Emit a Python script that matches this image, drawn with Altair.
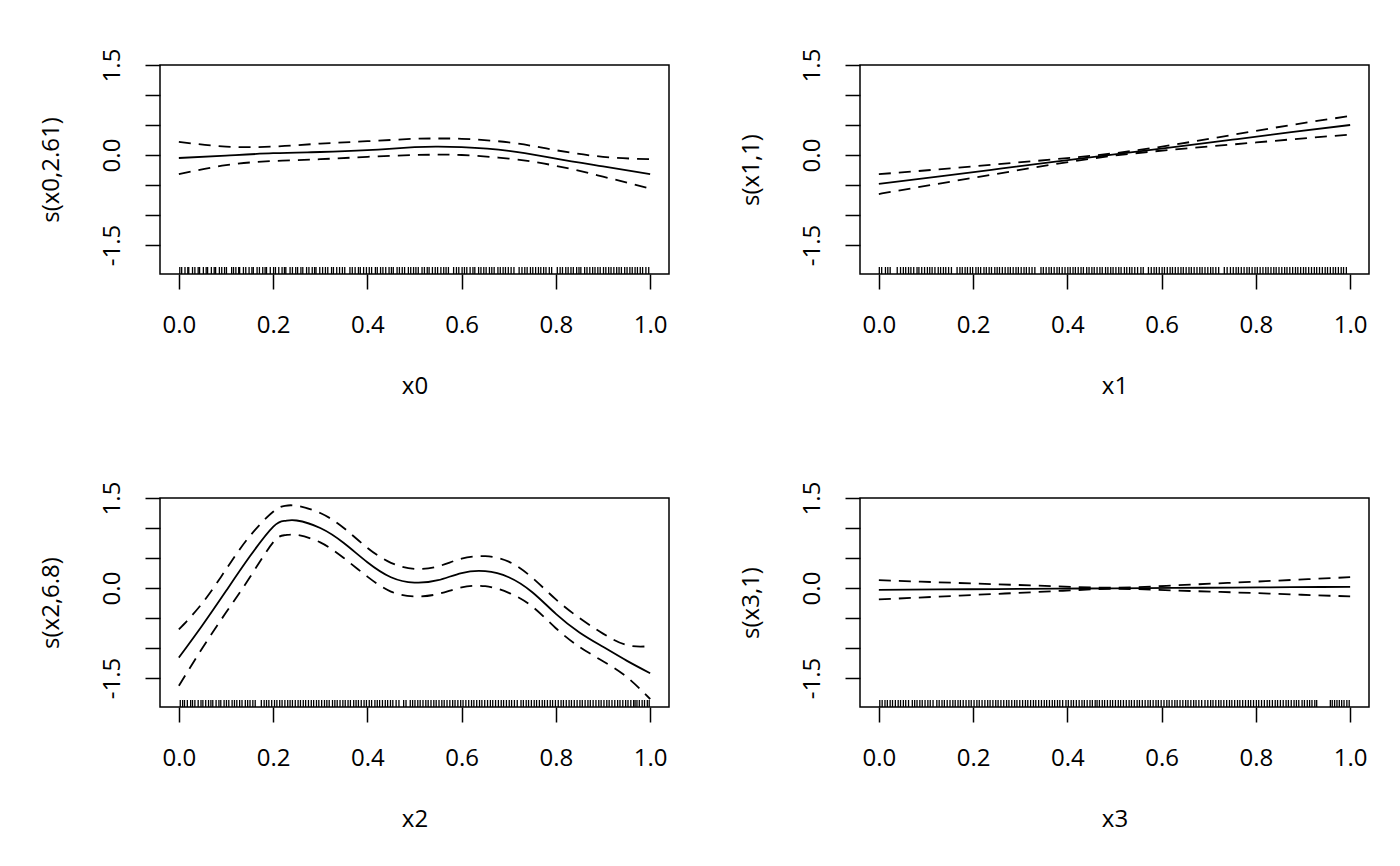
"""Four GAM smooth panels (fit, +/- 2 se bands and rug) in the style of mgcv plot.gam."""

import altair as alt
import pandas as pd

FONT = "Open Sans"
Y_MIN, Y_MAX = -1.983, 1.5
X_TICKS = [0.0, 0.2, 0.4, 0.6, 0.8, 1.0]
Y_TICKS = [-1.5, -1.0, -0.5, 0.0, 0.5, 1.0, 1.5]

# s(x0, 2.61)
x0_grid = [0.0, 0.1, 0.2, 0.3, 0.4, 0.5, 0.55, 0.6, 0.7, 0.8, 0.9, 1.0]
x0_fit = [-0.05, -0.01, 0.03, 0.05, 0.08, 0.13, 0.14, 0.13, 0.07, -0.06, -0.19, -0.32]
x0_upper = [0.22, 0.14, 0.14, 0.19, 0.23, 0.27, 0.275, 0.27, 0.21, 0.08, -0.03, -0.07]
x0_lower = [-0.32, -0.17, -0.10, -0.07, -0.03, 0.0, 0.005, 0.0, -0.06, -0.18, -0.36, -0.56]

# s(x1, 1)
x1_grid = [0.0, 0.125, 0.25, 0.375, 0.5, 0.625, 0.75, 0.875, 1.0]
x1_fit = [-0.48, -0.36, -0.235, -0.11, 0.01, 0.13, 0.255, 0.38, 0.50]
x1_upper = [-0.32, -0.24, -0.155, -0.07, 0.03, 0.17, 0.335, 0.50, 0.65]
x1_lower = [-0.65, -0.48, -0.315, -0.15, -0.01, 0.09, 0.175, 0.26, 0.34]

# s(x2, 6.8)
x2_grid = [0.0, 0.05, 0.1, 0.15, 0.2, 0.225, 0.25, 0.3, 0.35, 0.4, 0.45,
           0.5, 0.55, 0.6, 0.65, 0.7, 0.75, 0.8, 0.85, 0.9, 0.95, 1.0]
x2_fit = [-1.16, -0.62, -0.05, 0.52, 1.02, 1.12, 1.125, 1.0, 0.75, 0.43, 0.18,
          0.09, 0.13, 0.25, 0.28, 0.18, -0.07, -0.43, -0.74, -0.98, -1.21, -1.42]
x2_upper = [-0.69, -0.25, 0.31, 0.86, 1.27, 1.37, 1.37, 1.25, 1.0, 0.67, 0.42,
            0.32, 0.36, 0.49, 0.53, 0.44, 0.17, -0.19, -0.5, -0.76, -0.95, -0.97]
x2_lower = [-1.63, -1.0, -0.41, 0.17, 0.76, 0.88, 0.885, 0.76, 0.5, 0.19, -0.06,
            -0.14, -0.10, 0.01, 0.03, -0.08, -0.31, -0.67, -0.98, -1.22, -1.48, -1.85]

# s(x3, 1)
x3_grid = [0.0, 0.125, 0.25, 0.375, 0.5, 0.625, 0.75, 0.875, 1.0]
x3_fit = [-0.03, -0.024, -0.018, -0.011, -0.005, 0.001, 0.008, 0.014, 0.02]
x3_upper = [0.13, 0.096, 0.062, 0.03, 0.005, 0.042, 0.088, 0.134, 0.18]
x3_lower = [-0.19, -0.144, -0.098, -0.052, -0.015, -0.04, -0.072, -0.106, -0.14]

# rug positions
rug_x0 = [0.002, 0.006, 0.013, 0.019, 0.021, 0.029, 0.034, 0.041, 0.044, 0.052,
          0.058, 0.061, 0.069, 0.075, 0.078, 0.086, 0.091, 0.097, 0.101, 0.112,
          0.116, 0.121, 0.127, 0.129, 0.137, 0.142, 0.149, 0.155, 0.158, 0.166,
          0.171, 0.178, 0.183, 0.186, 0.194, 0.201, 0.205, 0.212, 0.219, 0.224,
          0.227, 0.236, 0.241, 0.248, 0.252, 0.259, 0.263, 0.271, 0.276, 0.283,
          0.288, 0.291, 0.299, 0.305, 0.311, 0.316, 0.324, 0.328, 0.335, 0.341,
          0.347, 0.352, 0.363, 0.368, 0.374, 0.381, 0.385, 0.392, 0.398, 0.404,
          0.409, 0.417, 0.421, 0.428, 0.433, 0.439, 0.446, 0.451, 0.455, 0.463,
          0.468, 0.474, 0.479, 0.487, 0.492, 0.498, 0.503, 0.508, 0.516, 0.521,
          0.527, 0.531, 0.538, 0.544, 0.549, 0.556, 0.562, 0.567, 0.572, 0.583,
          0.589, 0.594, 0.601, 0.606, 0.611, 0.618, 0.624, 0.628, 0.636, 0.641,
          0.647, 0.652, 0.659, 0.664, 0.669, 0.677, 0.682, 0.688, 0.693, 0.699,
          0.705, 0.711, 0.722, 0.728, 0.734, 0.739, 0.746, 0.751, 0.757, 0.763,
          0.768, 0.774, 0.779, 0.786, 0.791, 0.803, 0.809, 0.814, 0.821, 0.826,
          0.832, 0.837, 0.844, 0.849, 0.853, 0.861, 0.866, 0.872, 0.878, 0.883,
          0.889, 0.894, 0.901, 0.906, 0.912, 0.917, 0.923, 0.929, 0.934, 0.939,
          0.946, 0.951, 0.957, 0.962, 0.968, 0.973, 0.979, 0.984, 0.991, 0.997]
rug_x1 = [0.001, 0.006, 0.014, 0.019, 0.024, 0.039, 0.046, 0.052, 0.057, 0.063,
          0.068, 0.074, 0.081, 0.085, 0.091, 0.097, 0.103, 0.108, 0.113, 0.119,
          0.126, 0.131, 0.137, 0.142, 0.148, 0.154, 0.166, 0.172, 0.177, 0.183,
          0.188, 0.194, 0.199, 0.206, 0.211, 0.216, 0.223, 0.228, 0.234, 0.239,
          0.246, 0.251, 0.256, 0.262, 0.268, 0.274, 0.279, 0.285, 0.291, 0.296,
          0.302, 0.308, 0.313, 0.319, 0.325, 0.331, 0.344, 0.349, 0.355, 0.361,
          0.366, 0.372, 0.378, 0.383, 0.389, 0.395, 0.401, 0.406, 0.412, 0.417,
          0.423, 0.429, 0.434, 0.441, 0.446, 0.452, 0.457, 0.463, 0.469, 0.474,
          0.481, 0.486, 0.492, 0.497, 0.503, 0.509, 0.514, 0.521, 0.526, 0.532,
          0.537, 0.543, 0.549, 0.556, 0.561, 0.572, 0.578, 0.584, 0.589, 0.595,
          0.601, 0.606, 0.612, 0.618, 0.623, 0.629, 0.635, 0.641, 0.646, 0.652,
          0.658, 0.663, 0.669, 0.675, 0.681, 0.686, 0.692, 0.698, 0.704, 0.709,
          0.715, 0.721, 0.733, 0.739, 0.746, 0.752, 0.758, 0.763, 0.769, 0.775,
          0.781, 0.786, 0.792, 0.798, 0.803, 0.809, 0.815, 0.821, 0.826, 0.832,
          0.838, 0.843, 0.849, 0.855, 0.861, 0.866, 0.872, 0.878, 0.884, 0.889,
          0.895, 0.901, 0.906, 0.912, 0.918, 0.924, 0.929, 0.935, 0.941, 0.947,
          0.952, 0.958, 0.964, 0.969, 0.975, 0.981, 0.986, 0.992]
rug_x2 = [0.003, 0.008, 0.012, 0.018, 0.025, 0.029, 0.034, 0.041, 0.047, 0.051,
          0.057, 0.063, 0.068, 0.072, 0.079, 0.085, 0.089, 0.096, 0.101, 0.106,
          0.113, 0.118, 0.123, 0.129, 0.134, 0.141, 0.146, 0.151, 0.157, 0.162,
          0.175, 0.181, 0.186, 0.191, 0.197, 0.203, 0.208, 0.214, 0.219, 0.225,
          0.231, 0.236, 0.241, 0.247, 0.253, 0.258, 0.264, 0.269, 0.275, 0.281,
          0.286, 0.292, 0.297, 0.303, 0.309, 0.314, 0.319, 0.326, 0.331, 0.336,
          0.342, 0.348, 0.353, 0.359, 0.364, 0.371, 0.376, 0.381, 0.387, 0.393,
          0.398, 0.404, 0.409, 0.416, 0.421, 0.426, 0.432, 0.438, 0.443, 0.449,
          0.454, 0.461, 0.467, 0.477, 0.482, 0.491, 0.496, 0.501, 0.507, 0.512,
          0.518, 0.524, 0.529, 0.535, 0.541, 0.546, 0.552, 0.558, 0.563, 0.569,
          0.575, 0.581, 0.586, 0.592, 0.598, 0.603, 0.609, 0.615, 0.621, 0.626,
          0.632, 0.638, 0.643, 0.649, 0.655, 0.661, 0.666, 0.672, 0.678, 0.684,
          0.689, 0.695, 0.701, 0.706, 0.712, 0.718, 0.726, 0.731, 0.737, 0.742,
          0.748, 0.754, 0.759, 0.765, 0.771, 0.776, 0.782, 0.788, 0.793, 0.799,
          0.805, 0.811, 0.816, 0.822, 0.828, 0.833, 0.839, 0.845, 0.851, 0.856,
          0.862, 0.868, 0.873, 0.879, 0.885, 0.891, 0.896, 0.902, 0.908, 0.913,
          0.919, 0.925, 0.931, 0.936, 0.942, 0.948, 0.953, 0.959, 0.965, 0.968,
          0.972, 0.977, 0.983, 0.988, 0.994, 0.998]
rug_x3 = [0.002, 0.007, 0.013, 0.018, 0.024, 0.029, 0.035, 0.041, 0.046, 0.052,
          0.057, 0.063, 0.071, 0.076, 0.081, 0.087, 0.092, 0.098, 0.104, 0.109,
          0.115, 0.123, 0.128, 0.134, 0.139, 0.145, 0.151, 0.157, 0.162, 0.168,
          0.173, 0.179, 0.185, 0.191, 0.196, 0.202, 0.208, 0.213, 0.219, 0.225,
          0.231, 0.236, 0.242, 0.248, 0.253, 0.259, 0.265, 0.271, 0.276, 0.282,
          0.288, 0.293, 0.299, 0.305, 0.311, 0.316, 0.322, 0.328, 0.333, 0.339,
          0.345, 0.351, 0.356, 0.362, 0.368, 0.373, 0.379, 0.384, 0.390, 0.397,
          0.402, 0.408, 0.413, 0.419, 0.425, 0.431, 0.436, 0.442, 0.448, 0.453,
          0.459, 0.463, 0.468, 0.474, 0.479, 0.485, 0.491, 0.496, 0.502, 0.508,
          0.513, 0.519, 0.525, 0.531, 0.536, 0.542, 0.548, 0.553, 0.559, 0.565,
          0.571, 0.576, 0.582, 0.588, 0.593, 0.599, 0.605, 0.611, 0.616, 0.622,
          0.628, 0.633, 0.639, 0.645, 0.651, 0.656, 0.662, 0.668, 0.673, 0.679,
          0.685, 0.692, 0.698, 0.704, 0.709, 0.715, 0.721, 0.726, 0.732, 0.738,
          0.744, 0.749, 0.755, 0.761, 0.766, 0.772, 0.778, 0.784, 0.789, 0.795,
          0.801, 0.806, 0.812, 0.818, 0.824, 0.829, 0.835, 0.841, 0.846, 0.852,
          0.858, 0.864, 0.869, 0.875, 0.881, 0.886, 0.891, 0.898, 0.903, 0.909,
          0.914, 0.919, 0.925, 0.929, 0.958, 0.962, 0.967, 0.972, 0.977, 0.982,
          0.987, 0.993, 0.998]


def curve_frame(grid, fit, upper, lower):
    rows = []
    for kind, vals in (("fit", fit), ("upper", upper), ("lower", lower)):
        rows += [{"x": x, "y": y, "kind": kind} for x, y in zip(grid, vals)]
    return pd.DataFrame(rows)


def panel(grid, fit, upper, lower, rug, xlab, ylab):
    """One smooth: solid fit, dashed bands, rug along the bottom."""
    xs = alt.X("x:Q",
               scale=alt.Scale(domain=[-0.04, 1.04], nice=False, zero=False),
               axis=alt.Axis(values=X_TICKS, format=".1f", title=xlab,
                             domain=False, grid=False, tickSize=15, tickWidth=1.5,
                             tickColor="black", labelFont=FONT, labelFontSize=24,
                             labelColor="black", labelPadding=43,
                             labelBaseline="alphabetic", labelFlush=False,
                             labelOverlap=False, titleFont=FONT, titleFontSize=24,
                             titleFontWeight="normal", titleColor="black",
                             titleBaseline="alphabetic", titleAlign="center",
                             titleX=254.5, titleY=119))
    ys = alt.Y("y:Q",
               scale=alt.Scale(domain=[Y_MIN, Y_MAX], nice=False, zero=False),
               axis=alt.Axis(values=Y_TICKS, title=ylab,
                             labelExpr="datum.value == 1.5 ? '1.5' : datum.value == 0 ? '0.0'"
                                       " : datum.value == -1.5 ? '-1.5' : ''",
                             domain=False, grid=False, tickSize=15, tickWidth=1.5,
                             tickColor="black", labelFont=FONT, labelFontSize=24,
                             labelColor="black", labelAngle=270, labelAlign="center",
                             labelBaseline="alphabetic", labelPadding=26,
                             labelFlush=False, labelOverlap=False, titleFont=FONT,
                             titleFontSize=24, titleFontWeight="normal",
                             titleColor="black", titleAngle=270, titleAlign="center",
                             titleBaseline="alphabetic", titleX=-102, titleY=104.5))

    base = alt.Chart(curve_frame(grid, fit, upper, lower)).encode(x=xs, y=ys)
    bands = base.transform_filter("datum.kind != 'fit'").mark_line(
        color="black", strokeWidth=1.8, strokeDash=[12, 8], interpolate="natural",
        clip=True).encode(detail="kind:N")
    fit_line = base.transform_filter("datum.kind == 'fit'").mark_line(
        color="black", strokeWidth=1.8, interpolate="natural", clip=True)
    rug_marks = alt.Chart(pd.DataFrame({"x": rug})).mark_rule(
        color="black", strokeWidth=1.3).encode(x=xs, y=alt.value(202), y2=alt.value(209))

    return alt.layer(bands, fit_line, rug_marks).properties(width=509, height=209)


chart = alt.concat(
    panel(x0_grid, x0_fit, x0_upper, x0_lower, rug_x0, "x0", "s(x0,2.61)"),
    panel(x1_grid, x1_fit, x1_upper, x1_lower, rug_x1, "x1", "s(x1,1)"),
    panel(x2_grid, x2_fit, x2_upper, x2_lower, rug_x2, "x2", "s(x2,6.8)"),
    panel(x3_grid, x3_fit, x3_upper, x3_lower, rug_x3, "x3", "s(x3,1)"),
    columns=2,
    spacing={"row": 224, "column": 191},
    bounds="flush",
).properties(
    padding={"left": 30, "top": 39, "right": 5, "bottom": 5},
    background="white",
).configure_view(
    stroke="black", strokeWidth=1.5
)

chart.save("out.html", embed_options={"renderer": "svg", "actions": False})
